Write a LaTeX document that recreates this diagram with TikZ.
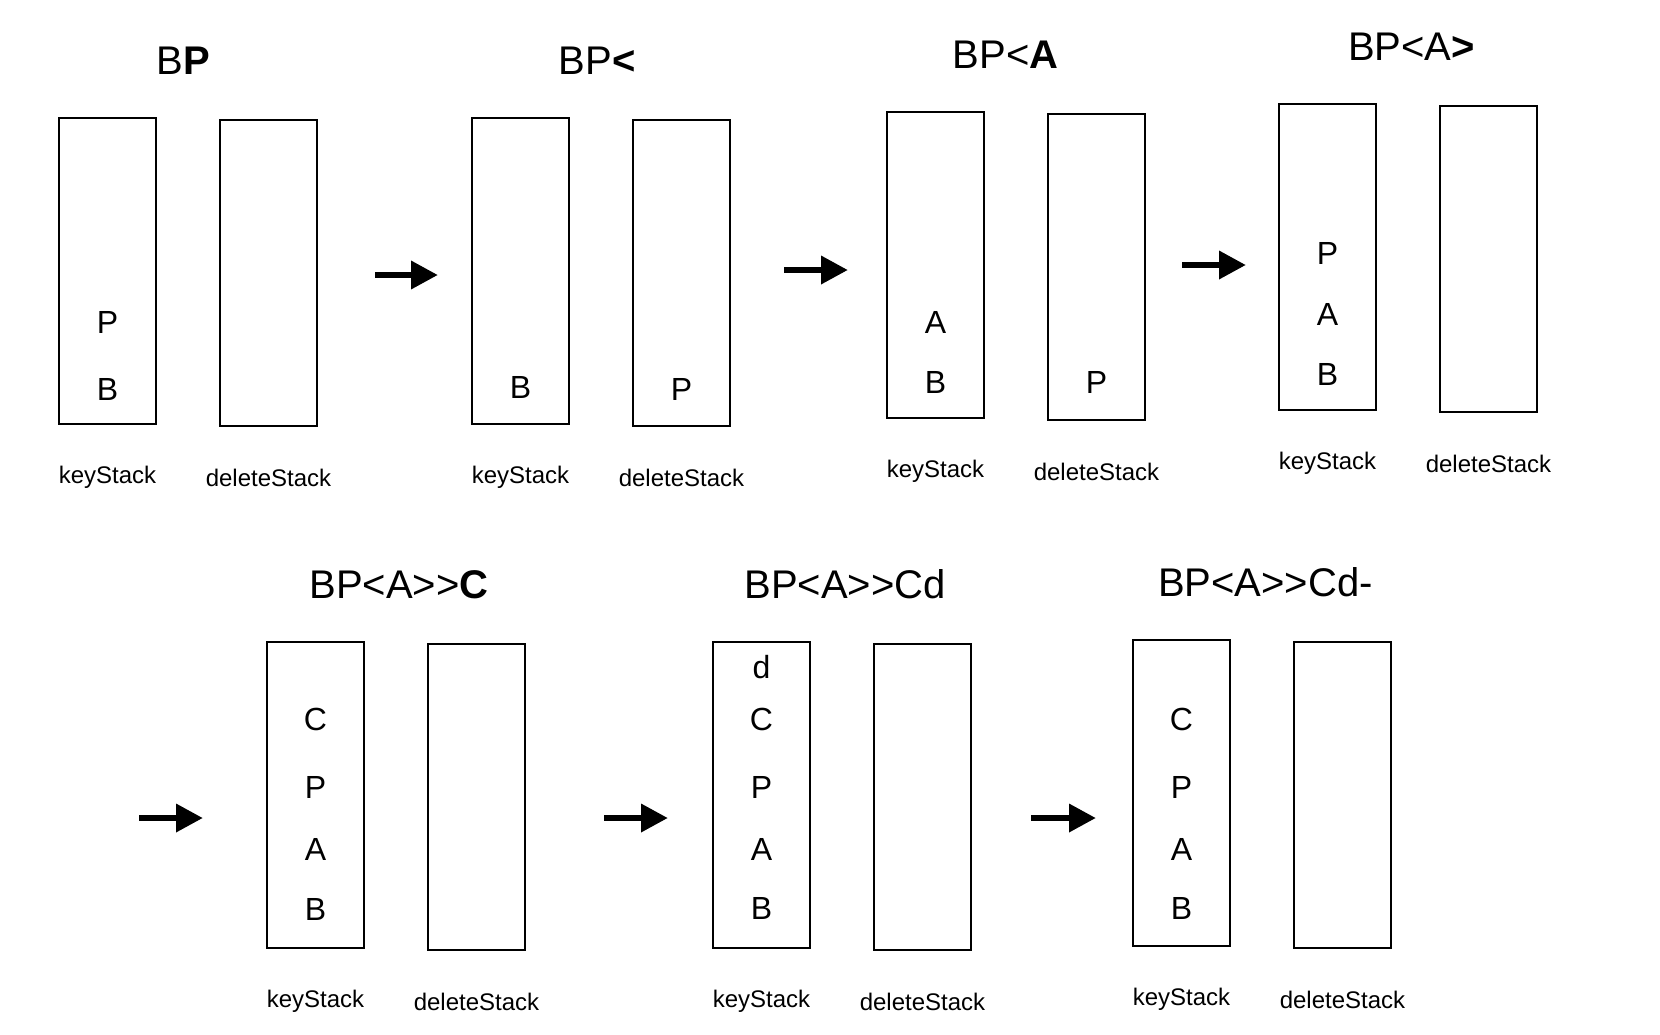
\documentclass[tikz,border=0pt]{standalone}
\usepackage{fontspec}
\setmainfont{Liberation Sans}[Ligatures=TeXOff]
\usepackage{tikz}
\usetikzlibrary{arrows.meta}
\tikzset{
  stackbox/.style={draw=black,line width=1pt,rectangle,minimum width=48.5pt,minimum height=153pt,inner sep=0pt},
  stacklabel/.style={font=\fontsize{12}{14}\selectfont,inner sep=0pt,anchor=base},
  stackitem/.style={font=\fontsize{16}{19}\selectfont,inner sep=0pt,anchor=base},
  statetitle/.style={font=\fontsize{20}{24}\selectfont,inner sep=0pt,anchor=base},
  steparrow/.style={-{Triangle[length=13.5pt,width=13.5pt]},line width=3.25pt}
}
\begin{document}
\begin{tikzpicture}[x=0.5pt,y=-0.5pt]
\useasboundingbox (0,0) rectangle (1660,1034);

%first row
\begin{scope}[shift={(58,117)}]
\node [statetitle] (t1) at (125,-43) {B\textbf{P}};
\node [stackbox] (ks1) at (49.5,154) {};
\node [stackbox] (ds1) at (210.5,156) {};
\node [stackitem] (i1p) at (49.5,216) {P};
\node [stackitem] (i1b) at (49.5,283) {B};
\node [stacklabel] (kl1) at (49.5,366) {keyStack};
\node [stacklabel] (dl1) at (210.5,369) {deleteStack};
\end{scope}

\begin{scope}[shift={(471,117)}]
\node [statetitle] (t2) at (126,-43) {BP\textbf{<}};
\node [stackbox] (ks2) at (49.5,154) {};
\node [stackbox] (ds2) at (210.5,156) {};
\node [stackitem] (i2b) at (49.5,281) {B};
\node [stackitem] (d2p) at (210.5,283) {P};
\node [stacklabel] (kl2) at (49.5,366) {keyStack};
\node [stacklabel] (dl2) at (210.5,369) {deleteStack};
\end{scope}

\begin{scope}[shift={(886,111)}]
\node [statetitle] (t3) at (119.5,-43) {BP<\textbf{A}};
\node [stackbox] (ks3) at (49.5,154) {};
\node [stackbox] (ds3) at (210.5,156) {};
\node [stackitem] (i3a) at (49.5,222) {A};
\node [stackitem] (i3b) at (49.5,282) {B};
\node [stackitem] (d3p) at (210.5,282) {P};
\node [stacklabel] (kl3) at (49.5,366) {keyStack};
\node [stacklabel] (dl3) at (210.5,369) {deleteStack};
\end{scope}

\begin{scope}[shift={(1278,103)}]
\node [statetitle] (t4) at (133.5,-43) {BP<A\textbf{>}};
\node [stackbox] (ks4) at (49.5,154) {};
\node [stackbox] (ds4) at (210.5,156) {};
\node [stackitem] (i4p) at (49.5,161) {P};
\node [stackitem] (i4a) at (49.5,222) {A};
\node [stackitem] (i4b) at (49.5,282) {B};
\node [stacklabel] (kl4) at (49.5,366) {keyStack};
\node [stacklabel] (dl4) at (210.5,369) {deleteStack};
\end{scope}

%second row
\begin{scope}[shift={(266,641)}]
\node [statetitle] (t5) at (133,-43) {BP<A>>\textbf{C}};
\node [stackbox] (ks5) at (49.5,154) {};
\node [stackbox] (ds5) at (210.5,156) {};
\node [stackitem] (i5c) at (49.5,89) {C};
\node [stackitem] (i5p) at (49.5,157) {P};
\node [stackitem] (i5a) at (49.5,219) {A};
\node [stackitem] (i5b) at (49.5,279) {B};
\node [stacklabel] (kl5) at (49.5,366) {keyStack};
\node [stacklabel] (dl5) at (210.5,369) {deleteStack};
\end{scope}

\begin{scope}[shift={(712,641)}]
\node [statetitle] (t6) at (133,-43) {BP<A>>Cd};
\node [stackbox] (ks6) at (49.5,154) {};
\node [stackbox] (ds6) at (210.5,156) {};
\node [stackitem] (i6d) at (49.5,37) {d};
\node [stackitem] (i6c) at (49.5,89) {C};
\node [stackitem] (i6p) at (49.5,157) {P};
\node [stackitem] (i6a) at (49.5,219) {A};
\node [stackitem] (i6b) at (49.5,278) {B};
\node [stacklabel] (kl6) at (49.5,366) {keyStack};
\node [stacklabel] (dl6) at (210.5,369) {deleteStack};
\end{scope}

\begin{scope}[shift={(1132,639)}]
\node [statetitle] (t7) at (133.5,-43) {BP<A>>Cd-};
\node [stackbox] (ks7) at (49.5,154) {};
\node [stackbox] (ds7) at (210.5,156) {};
\node [stackitem] (i7c) at (49.5,91) {C};
\node [stackitem] (i7p) at (49.5,159) {P};
\node [stackitem] (i7a) at (49.5,221) {A};
\node [stackitem] (i7b) at (49.5,280) {B};
\node [stacklabel] (kl7) at (49.5,366) {keyStack};
\node [stacklabel] (dl7) at (210.5,369) {deleteStack};
\end{scope}

%arrows between the states
\coordinate (a1s) at (375,275);  \coordinate (a1e) at (438,275);
\coordinate (a2s) at (784,270);  \coordinate (a2e) at (848,270);
\coordinate (a3s) at (1182,265); \coordinate (a3e) at (1246,265);
\coordinate (a4s) at (139,818);  \coordinate (a4e) at (203,818);
\coordinate (a5s) at (604,818);  \coordinate (a5e) at (668,818);
\coordinate (a6s) at (1031,818); \coordinate (a6e) at (1096,818);
\foreach \n in {1,...,6}
  \draw [steparrow] (a\n s) -- (a\n e);

\end{tikzpicture}
\end{document}
